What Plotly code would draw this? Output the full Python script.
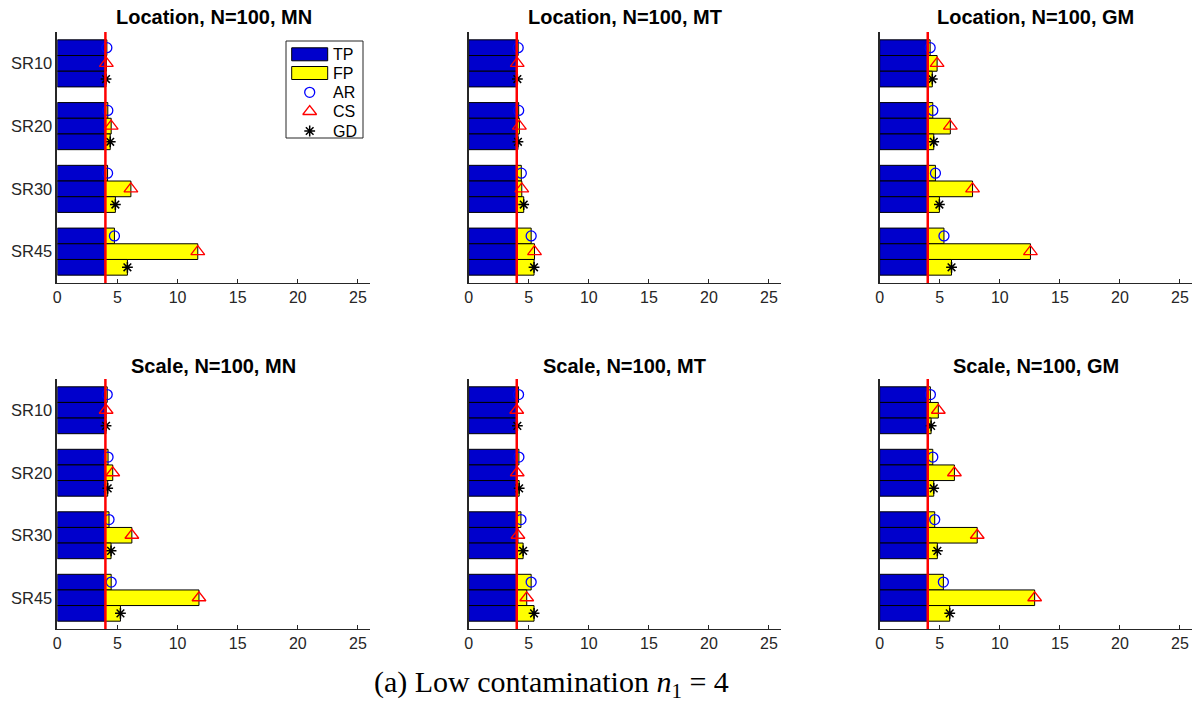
import plotly.graph_objects as go
from plotly.subplots import make_subplots

# ---- data ----
categories = ["SR10", "SR20", "SR30", "SR45"]
methods = ["AR", "CS", "GD"]
N1 = 4  # true number of outliers (red reference line)

panel_titles = [
    "Location, N=100, MN", "Location, N=100, MT", "Location, N=100, GM",
    "Scale, N=100, MN", "Scale, N=100, MT", "Scale, N=100, GM",
]

# true positives (per method, per SR level) for each panel
tp_loc_mn = {"AR": [4.0, 4.0, 4.0, 4.0], "CS": [4.0, 4.0, 4.0, 4.0], "GD": [4.0, 4.0, 4.0, 4.0]}
tp_loc_mt = {"AR": [4.0, 4.0, 4.0, 4.0], "CS": [4.0, 4.0, 4.0, 4.0], "GD": [4.0, 4.0, 4.0, 4.0]}
tp_loc_gm = {"AR": [4.0, 4.0, 4.0, 4.0], "CS": [4.0, 4.0, 4.0, 4.0], "GD": [4.0, 4.0, 4.0, 4.0]}
tp_sc_mn = {"AR": [4.0, 4.0, 4.0, 4.0], "CS": [4.0, 4.0, 4.0, 4.0], "GD": [4.0, 4.0, 4.0, 4.0]}
tp_sc_mt = {"AR": [4.0, 4.0, 4.0, 4.0], "CS": [4.0, 4.0, 4.0, 4.0], "GD": [4.0, 4.0, 4.0, 4.0]}
tp_sc_gm = {"AR": [4.0, 4.0, 4.0, 4.0], "CS": [4.0, 4.0, 4.0, 4.0], "GD": [4.0, 4.0, 4.0, 4.0]}

# false positives (per method, per SR level) for each panel
fp_loc_mn = {"AR": [0.12, 0.2, 0.18, 0.75], "CS": [0.08, 0.48, 2.12, 7.68], "GD": [0.05, 0.4, 0.83, 1.83]}
fp_loc_mt = {"AR": [0.12, 0.16, 0.38, 1.2], "CS": [0.04, 0.22, 0.42, 1.48], "GD": [0.05, 0.1, 0.58, 1.44]}
fp_loc_gm = {"AR": [0.2, 0.42, 0.64, 1.35], "CS": [0.78, 1.88, 3.73, 8.55], "GD": [0.38, 0.5, 0.97, 1.98]}
fp_sc_mn = {"AR": [0.15, 0.22, 0.3, 0.48], "CS": [0.06, 0.61, 2.2, 7.78], "GD": [0.05, 0.19, 0.47, 1.25]}
fp_sc_mt = {"AR": [0.15, 0.18, 0.35, 1.2], "CS": [0.0, 0.04, 0.1, 0.83], "GD": [0.05, 0.2, 0.53, 1.44]}
fp_sc_gm = {"AR": [0.22, 0.42, 0.58, 1.3], "CS": [0.88, 2.22, 4.12, 8.9], "GD": [0.28, 0.5, 0.8, 1.83]}

tp_panels = [tp_loc_mn, tp_loc_mt, tp_loc_gm, tp_sc_mn, tp_sc_mt, tp_sc_gm]
fp_panels = [fp_loc_mn, fp_loc_mt, fp_loc_gm, fp_sc_mn, fp_sc_mt, fp_sc_gm]

x_ticks = [0, 5, 10, 15, 20, 25]
legend_labels = ["TP", "FP", "AR", "CS", "GD"]

# ---- styling ----
TP_COLOR = "rgb(0,0,204)"
FP_COLOR = "rgb(255,255,0)"
AXIS_COLOR = "#262626"
SANS = "Liberation Sans, Arial, Helvetica, sans-serif"
marker_style = {
    "AR": dict(symbol="circle-open", color="rgb(0,0,255)", size=10, line=dict(width=1.3, color="rgb(0,0,255)")),
    "CS": dict(symbol="triangle-up-open", color="rgb(255,0,0)", size=12, line=dict(width=1.3, color="rgb(255,0,0)")),
    "GD": dict(symbol="asterisk-open", color="black", size=9, line=dict(width=1.5, color="black")),
}
bar_width = 0.25
offsets = {"AR": -bar_width, "CS": 0.0, "GD": bar_width}

W, H = 1196, 705
col_px = [(57.3, 370.0), (468.7, 781.0), (879.7, 1192.0)]
row_px = [(32.0, 283.0), (379.0, 629.0)]
title_y_px = [17.0, 366.0]

fig = make_subplots(rows=2, cols=3)

group_pos = list(range(1, len(categories) + 1))

for p in range(6):
    r, c = divmod(p, 3)
    tp = tp_panels[p]
    fp = fp_panels[p]
    ys, tps, fps = [], [], []
    for m in methods:
        for g, t, f in zip(group_pos, tp[m], fp[m]):
            ys.append(g + offsets[m])
            tps.append(t)
            fps.append(f)
    fig.add_trace(go.Bar(
        x=tps, y=ys, orientation="h", width=bar_width, name="TP",
        marker=dict(color=TP_COLOR, line=dict(color="black", width=1)), showlegend=False,
    ), row=r + 1, col=c + 1)
    fig.add_trace(go.Bar(
        x=fps, y=ys, base=tps, orientation="h", width=bar_width, name="FP",
        marker=dict(color=FP_COLOR, line=dict(color="black", width=1)), showlegend=False,
    ), row=r + 1, col=c + 1)
    for m in methods:
        tot = [t + f for t, f in zip(tp[m], fp[m])]
        fig.add_trace(go.Scatter(
            x=tot, y=[g + offsets[m] for g in group_pos], mode="markers", name=m,
            marker=marker_style[m], showlegend=False,
        ), row=r + 1, col=c + 1)

    xa = "xaxis" if p == 0 else f"xaxis{p + 1}"
    ya = "yaxis" if p == 0 else f"yaxis{p + 1}"
    x0, x1 = col_px[c]
    yt, yb = row_px[r]
    fig.layout[xa].update(
        domain=[x0 / W, x1 / W], range=[0, 26], tickvals=x_ticks, ticks="inside", ticklen=4,
        tickcolor=AXIS_COLOR, showline=True, linecolor=AXIS_COLOR, linewidth=1, showgrid=False,
        zeroline=False, tickfont=dict(family=SANS, size=16, color=AXIS_COLOR), fixedrange=True,
        automargin=False,
    )
    fig.layout[ya].update(
        domain=[1 - yb / H, 1 - yt / H], range=[len(categories) + 0.5, 0.5],
        tickvals=group_pos, ticktext=categories, showticklabels=(c == 0), ticks="",
        showline=True, linecolor=AXIS_COLOR, linewidth=1.5, showgrid=False, zeroline=False,
        tickfont=dict(family=SANS, size=16.5, color=AXIS_COLOR), fixedrange=True,
        automargin=False,
    )
    xref = "x" if p == 0 else f"x{p + 1}"
    fig.add_shape(type="line", xref=xref, yref=f"{'y' if p == 0 else 'y' + str(p + 1)} domain",
                  x0=N1, x1=N1, y0=0, y1=1, line=dict(color="rgb(255,0,0)", width=2.5))
    fig.add_annotation(
        x=(x0 + x1) / 2 / W, y=1 - title_y_px[r] / H, xref="paper", yref="paper",
        text=f"<b>{panel_titles[p]}</b>", showarrow=False, xanchor="center", yanchor="middle",
        font=dict(family=SANS, size=20, color="black"),
    )

# ---- legend box (MATLAB style) drawn on a pixel-coordinate overlay axis ----
fig.update_layout(
    xaxis7=dict(domain=[0, 1], range=[0, W], visible=False, fixedrange=True, anchor="y7"),
    yaxis7=dict(domain=[0, 1], range=[H, 0], visible=False, fixedrange=True, anchor="x7"),
)
LX0, LX1, LY0, LY1 = 286, 363, 41, 138
row_y = [54.3, 73.0, 92.3, 111.5, 131.0]
sym_x0, sym_x1, text_x = 291.7, 327.7, 330.5
fig.add_shape(type="rect", xref="x7", yref="y7", x0=LX0, x1=LX1, y0=LY0, y1=LY1,
              line=dict(color=AXIS_COLOR, width=1), fillcolor="white", layer="below")
for yy, col in zip(row_y[:2], [TP_COLOR, FP_COLOR]):
    fig.add_shape(type="rect", xref="x7", yref="y7", x0=sym_x0, x1=sym_x1, y0=yy - 6.5, y1=yy + 6.5,
                  line=dict(color="black", width=1), fillcolor=col, layer="below")
for yy, m in zip(row_y[2:], methods):
    fig.add_trace(go.Scatter(x=[(sym_x0 + sym_x1) / 2], y=[yy], mode="markers", marker=marker_style[m],
                             showlegend=False, xaxis="x7", yaxis="y7", hoverinfo="skip"))
for yy, lab in zip(row_y, legend_labels):
    fig.add_annotation(x=text_x, y=yy, xref="x7", yref="y7", text=lab, showarrow=False,
                       xanchor="left", yanchor="middle", font=dict(family=SANS, size=16, color="black"))

fig.add_annotation(
    x=551 / W, y=1 - 684 / H, xref="paper", yref="paper",
    text="(a) Low contamination <i>n</i><sub>1</sub> = 4", showarrow=False,
    xanchor="center", yanchor="middle",
    font=dict(family="Liberation Serif, Times New Roman, serif", size=30, color="black"),
)

fig.update_layout(
    width=W, height=H, margin=dict(l=0, r=0, t=0, b=0),
    paper_bgcolor="white", plot_bgcolor="rgba(0,0,0,0)", barmode="overlay", showlegend=False,
)

fig.write_html("out.html")
